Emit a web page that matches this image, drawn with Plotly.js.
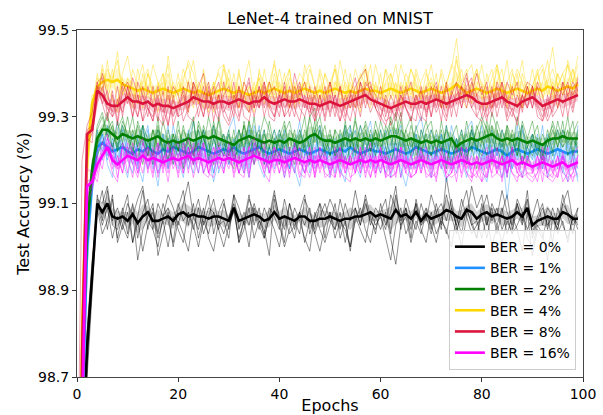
<!DOCTYPE html>
<html>
<head>
<meta charset="utf-8">
<script src="https://cdn.plot.ly/plotly-3.0.1.min.js"></script>
<style>
  html, body { margin: 0; padding: 0; background: #fff; }
  #chart { width: 603px; height: 415px; }
</style>
</head>
<body>
<div id="chart"></div>
<script>
// Test accuracy (%) of LeNet-4 on MNIST per epoch, for several bit error rates.
const epochs = Array.from({ length: 100 }, (_, i) => i);
const berLabels = ['BER = 0%', 'BER = 1%', 'BER = 2%', 'BER = 4%', 'BER = 8%', 'BER = 16%'];
const lineColors = ['#000000', '#1E90FF', '#008000', '#FFD700', '#DC143C', '#FF00FF'];

// ---- BER = 0% ----
const meanBer0 = [
  97.50, 98.50, 98.77, 98.94, 99.10, 99.08, 99.10, 99.07, 99.065, 99.07,
  99.06, 99.075, 99.055, 99.07, 99.08, 99.06, 99.06, 99.065, 99.07, 99.06,
  99.075, 99.08, 99.07, 99.075, 99.07, 99.07, 99.065, 99.07, 99.07, 99.065,
  99.06, 99.09, 99.06, 99.065, 99.07, 99.075, 99.07, 99.06, 99.065, 99.08,
  99.065, 99.07, 99.065, 99.06, 99.07, 99.07, 99.06, 99.06, 99.065, 99.065,
  99.07, 99.065, 99.06, 99.065, 99.065, 99.07, 99.07, 99.075, 99.08, 99.07,
  99.075, 99.07, 99.065, 99.085, 99.07, 99.075, 99.065, 99.08, 99.06, 99.075,
  99.065, 99.07, 99.075, 99.085, 99.08, 99.07, 99.065, 99.085, 99.08, 99.065,
  99.075, 99.08, 99.07, 99.075, 99.07, 99.065, 99.07, 99.08, 99.07, 99.09,
  99.05, 99.06, 99.065, 99.07, 99.065, 99.065, 99.08, 99.075, 99.065, 99.065
];
const runsBer0 = [
  [97.40, 98.42, 98.72, 98.92, 99.12, 99.06, 99.13, 99.05, 99.04, 99.09,
   99.03, 99.10, 99.02, 99.08, 99.11, 99.04, 99.00, 99.07, 99.09, 99.05,
   99.10, 99.06, 99.08, 99.04, 99.09, 99.03, 99.07, 99.11, 99.05, 99.06,
   99.02, 99.12, 99.04, 99.08, 99.05, 99.10, 99.06, 99.03, 99.09, 99.07,
   99.04, 99.11, 99.06, 99.02, 99.08, 99.05, 99.09, 99.03, 99.07, 99.10,
   99.06, 99.04, 99.08, 99.01, 99.07, 99.09, 99.05, 99.10, 99.06, 99.04,
   99.08, 99.11, 99.03, 99.12, 99.06, 99.09, 99.04, 99.10, 99.05, 99.07,
   99.03, 99.08, 99.10, 99.06, 99.11, 99.04, 99.07, 99.09, 99.05, 99.02,
   99.08, 99.12, 99.06, 99.09, 99.04, 99.07, 99.03, 99.10, 99.05, 99.13,
   99.02, 99.06, 99.09, 99.05, 99.07, 99.04, 99.10, 99.08, 99.05, 99.07],
  [97.55, 98.58, 98.81, 98.97, 99.08, 99.13, 99.04, 99.11, 99.02, 99.08,
   99.12, 99.01, 99.07, 99.13, 99.04, 99.09, 99.03, 99.10, 99.06, 99.01,
   99.09, 99.13, 99.05, 99.10, 99.02, 99.07, 99.12, 99.03, 99.08, 99.11,
   99.04, 99.09, 99.01, 99.06, 99.12, 99.05, 99.09, 99.02, 99.07, 99.13,
   99.06, 99.01, 99.10, 99.04, 99.08, 99.12, 99.03, 99.07, 99.10, 99.02,
   99.08, 99.04, 99.11, 99.06, 99.00, 99.09, 99.05, 99.12, 99.07, 99.03,
   99.10, 99.05, 99.08, 99.14, 99.04, 99.09, 99.02, 99.11, 99.06, 99.09,
   99.04, 99.10, 99.05, 99.12, 99.07, 99.03, 99.09, 99.13, 99.06, 99.02,
   99.10, 99.05, 99.09, 99.03, 99.08, 99.12, 99.04, 99.10, 99.06, 99.11,
   99.03, 99.07, 99.10, 99.04, 99.09, 99.05, 99.12, 99.07, 99.03, 99.09],
  [97.35, 98.45, 98.70, 98.90, 99.09, 99.03, 99.06, 99.12, 99.01, 99.05,
   99.02, 99.08, 98.97, 99.04, 99.07, 99.10, 98.98, 99.03, 99.08, 99.00,
   99.06, 99.03, 98.99, 99.07, 99.04, 99.09, 99.02, 98.99, 99.06, 99.03,
   99.07, 99.10, 99.01, 99.04, 99.09, 99.02, 99.06, 99.04, 98.98, 99.11,
   99.05, 99.00, 99.04, 99.09, 99.06, 99.02, 98.99, 99.08, 99.04, 99.01,
   99.05, 99.10, 99.02, 99.06, 98.99, 99.07, 99.04, 99.01, 99.08, 99.05,
   99.07, 99.02, 98.97, 99.05, 99.09, 99.03, 99.06, 99.10, 99.04, 99.01,
   99.08, 99.03, 99.06, 99.04, 99.00, 99.07, 99.03, 99.09, 99.05, 99.06,
   99.02, 99.07, 99.00, 99.05, 99.09, 99.03, 99.07, 99.04, 98.99, 99.08,
   98.98, 99.04, 99.02, 99.07, 99.01, 99.09, 99.05, 99.02, 99.07, 99.04],
  [97.60, 98.55, 98.80, 98.96, 99.11, 99.10, 99.14, 99.06, 99.09, 99.05,
   99.10, 99.07, 99.11, 99.14, 99.06, 99.04, 99.10, 99.07, 99.12, 99.09,
   99.05, 99.10, 99.15, 99.07, 99.11, 99.05, 99.09, 99.08, 99.04, 99.10,
   99.06, 99.12, 99.09, 99.05, 99.11, 99.08, 99.04, 99.09, 99.06, 99.12,
   99.07, 99.04, 99.10, 99.06, 99.03, 99.11, 99.08, 99.04, 99.10, 99.07,
   99.11, 99.08, 99.04, 99.10, 99.06, 99.13, 99.07, 99.11, 99.05, 99.09,
   99.07, 99.04, 99.12, 99.09, 99.05, 99.11, 99.07, 99.04, 99.10, 99.06,
   99.12, 99.08, 99.04, 99.16, 99.09, 99.05, 99.11, 99.07, 99.14, 99.09,
   99.12, 99.05, 99.10, 99.07, 99.13, 99.08, 99.05, 99.11, 99.08, 99.04,
   99.07, 99.11, 99.05, 99.09, 99.07, 99.04, 99.10, 99.13, 99.06, 99.09],
  [97.45, 98.50, 98.76, 98.94, 99.10, 99.05, 99.09, 99.02, 99.07, 99.04,
   99.08, 99.01, 99.06, 98.99, 99.05, 99.08, 99.02, 99.06, 99.00, 99.07,
   99.04, 99.01, 99.08, 99.05, 99.00, 99.06, 99.03, 99.08, 99.04, 99.00,
   99.05, 99.08, 99.02, 99.06, 99.00, 99.09, 99.05, 99.02, 99.07, 99.04,
   99.00, 99.07, 99.03, 99.05, 99.08, 99.01, 99.06, 99.03, 98.99, 99.05,
   99.08, 99.02, 99.06, 99.04, 99.00, 99.06, 99.09, 99.04, 99.01, 99.07,
   99.04, 99.08, 99.02, 98.96, 99.05, 99.07, 99.01, 99.06, 99.03, 99.08,
   99.05, 99.01, 99.07, 99.03, 99.09, 99.05, 99.00, 99.07, 99.03, 99.05,
   99.07, 99.02, 99.08, 99.05, 99.01, 99.06, 99.03, 99.05, 99.08, 99.02,
   99.00, 99.05, 99.03, 98.97, 99.07, 99.03, 99.06, 99.01, 99.07, 99.05]
];

// ---- BER = 1% ----
const meanBer1 = [
  97.60, 98.60, 99.00, 99.15, 99.23, 99.24, 99.23, 99.22, 99.225, 99.23,
  99.22, 99.215, 99.225, 99.22, 99.23, 99.22, 99.215, 99.225, 99.22, 99.23,
  99.225, 99.22, 99.215, 99.22, 99.23, 99.225, 99.22, 99.215, 99.22, 99.225,
  99.22, 99.23, 99.22, 99.215, 99.22, 99.225, 99.23, 99.22, 99.215, 99.22,
  99.225, 99.22, 99.215, 99.22, 99.225, 99.22, 99.215, 99.22, 99.225, 99.22,
  99.215, 99.22, 99.225, 99.22, 99.23, 99.22, 99.215, 99.22, 99.225, 99.22,
  99.22, 99.215, 99.22, 99.225, 99.22, 99.215, 99.22, 99.23, 99.225, 99.22,
  99.215, 99.22, 99.225, 99.22, 99.215, 99.22, 99.225, 99.22, 99.23, 99.225,
  99.22, 99.215, 99.22, 99.225, 99.22, 99.21, 99.22, 99.225, 99.22, 99.215,
  99.22, 99.225, 99.22, 99.215, 99.22, 99.225, 99.22, 99.215, 99.22, 99.22
];
const runsBer1 = [
  [97.50, 98.50, 98.95, 99.12, 99.21, 99.26, 99.20, 99.25, 99.19, 99.24,
   99.20, 99.17, 99.25, 99.21, 99.27, 99.19, 99.22, 99.26, 99.18, 99.24,
   99.21, 99.25, 99.18, 99.23, 99.27, 99.20, 99.24, 99.17, 99.22, 99.26,
   99.19, 99.25, 99.21, 99.17, 99.24, 99.22, 99.28, 99.19, 99.23, 99.20,
   99.26, 99.21, 99.18, 99.24, 99.20, 99.25, 99.17, 99.22, 99.27, 99.19,
   99.23, 99.20, 99.26, 99.22, 99.28, 99.18, 99.21, 99.25, 99.19, 99.24,
   99.21, 99.17, 99.24, 99.27, 99.20, 99.18, 99.23, 99.26, 99.21, 99.19,
   99.24, 99.20, 99.26, 99.18, 99.22, 99.25, 99.19, 99.23, 99.27, 99.21,
   99.18, 99.24, 99.20, 99.26, 99.22, 99.11, 99.21, 99.25, 99.19, 99.23,
   99.20, 99.26, 99.18, 99.22, 99.25, 99.21, 99.17, 99.24, 99.20, 99.16],
  [97.70, 98.70, 99.05, 99.18, 99.27, 99.20, 99.28, 99.23, 99.29, 99.19,
   99.26, 99.22, 99.18, 99.28, 99.21, 99.25, 99.17, 99.23, 99.28, 99.19,
   99.25, 99.18, 99.24, 99.29, 99.20, 99.27, 99.22, 99.17, 99.25, 99.21,
   99.27, 99.30, 99.21, 99.26, 99.18, 99.28, 99.23, 99.27, 99.19, 99.25,
   99.21, 99.27, 99.18, 99.23, 99.29, 99.21, 99.26, 99.19, 99.28, 99.23,
   99.18, 99.25, 99.21, 99.28, 99.24, 99.27, 99.19, 99.25, 99.29, 99.21,
   99.27, 99.20, 99.18, 99.25, 99.28, 99.19, 99.24, 99.27, 99.30, 99.23,
   99.19, 99.26, 99.22, 99.28, 99.18, 99.25, 99.21, 99.27, 99.29, 99.22,
   99.28, 99.19, 99.25, 99.21, 99.27, 99.23, 99.18, 99.25, 99.28, 99.20,
   99.26, 99.21, 99.28, 99.19, 99.24, 99.27, 99.21, 99.18, 99.25, 99.22],
  [97.55, 98.55, 98.98, 99.14, 99.20, 99.27, 99.19, 99.16, 99.24, 99.20,
   99.16, 99.23, 99.19, 99.15, 99.24, 99.20, 99.14, 99.23, 99.18, 99.25,
   99.20, 99.16, 99.23, 99.19, 99.25, 99.17, 99.21, 99.15, 99.20, 99.24,
   99.19, 99.23, 99.17, 99.21, 99.16, 99.24, 99.19, 99.16, 99.23, 99.18,
   99.22, 99.16, 99.23, 99.18, 99.14, 99.21, 99.25, 99.18, 99.20, 99.23,
   99.16, 99.22, 99.18, 99.15, 99.23, 99.19, 99.16, 99.22, 99.25, 99.18,
   99.20, 99.23, 99.16, 99.21, 99.18, 99.14, 99.20, 99.24, 99.18, 99.22,
   99.16, 99.22, 99.19, 99.15, 99.19, 99.24, 99.20, 99.16, 99.22, 99.25,
   99.18, 99.15, 99.22, 99.20, 99.16, 99.23, 99.18, 99.22, 99.16, 99.20,
   99.24, 99.18, 99.22, 99.16, 99.20, 99.23, 99.18, 99.15, 99.22, 99.18],
  [97.65, 98.62, 99.02, 99.16, 99.25, 99.22, 99.27, 99.19, 99.23, 99.28,
   99.23, 99.19, 99.25, 99.28, 99.18, 99.24, 99.27, 99.20, 99.25, 99.21,
   99.18, 99.25, 99.20, 99.17, 99.24, 99.27, 99.19, 99.25, 99.22, 99.18,
   99.24, 99.20, 99.27, 99.22, 99.28, 99.19, 99.25, 99.21, 99.17, 99.24,
   99.27, 99.22, 99.18, 99.25, 99.20, 99.17, 99.24, 99.27, 99.20, 99.25,
   99.22, 99.17, 99.25, 99.20, 99.27, 99.24, 99.18, 99.22, 99.26, 99.20,
   99.17, 99.24, 99.27, 99.20, 99.25, 99.22, 99.18, 99.26, 99.20, 99.24,
   99.27, 99.22, 99.18, 99.25, 99.20, 99.17, 99.24, 99.20, 99.27, 99.22,
   99.20, 99.26, 99.22, 99.18, 99.24, 99.16, 99.25, 99.20, 99.27, 99.22,
   99.18, 99.24, 99.20, 99.26, 99.22, 99.18, 99.27, 99.23, 99.18, 99.28],
  [97.58, 98.64, 99.00, 99.15, 99.23, 99.26, 99.21, 99.24, 99.19, 99.27,
   99.21, 99.26, 99.19, 99.24, 99.28, 99.18, 99.22, 99.26, 99.19, 99.28,
   99.23, 99.19, 99.27, 99.21, 99.17, 99.25, 99.20, 99.28, 99.17, 99.22,
   99.26, 99.19, 99.24, 99.18, 99.27, 99.21, 99.25, 99.19, 99.23, 99.27,
   99.19, 99.25, 99.21, 99.17, 99.27, 99.23, 99.19, 99.26, 99.21, 99.18,
   99.25, 99.21, 99.17, 99.27, 99.19, 99.23, 99.28, 99.21, 99.18, 99.25,
   99.21, 99.27, 99.19, 99.24, 99.16, 99.25, 99.21, 99.18, 99.27, 99.23,
   99.18, 99.22, 99.26, 99.19, 99.28, 99.23, 99.27, 99.21, 99.18, 99.25,
   99.23, 99.18, 99.27, 99.21, 99.25, 99.17, 99.22, 99.28, 99.19, 99.23,
   99.26, 99.21, 99.18, 99.25, 99.19, 99.23, 99.20, 99.25, 99.21, 99.15]
];

// ---- BER = 2% ----
const meanBer2 = [
  97.70, 98.70, 99.05, 99.18, 99.25, 99.27, 99.27, 99.26, 99.25, 99.26,
  99.255, 99.25, 99.255, 99.25, 99.245, 99.25, 99.255, 99.245, 99.24, 99.245,
  99.24, 99.245, 99.25, 99.245, 99.25, 99.255, 99.25, 99.255, 99.25, 99.245,
  99.24, 99.235, 99.245, 99.25, 99.255, 99.25, 99.245, 99.24, 99.245, 99.24,
  99.245, 99.24, 99.25, 99.245, 99.24, 99.245, 99.255, 99.26, 99.25, 99.245,
  99.245, 99.24, 99.245, 99.25, 99.245, 99.25, 99.245, 99.25, 99.245, 99.25,
  99.245, 99.25, 99.255, 99.255, 99.25, 99.245, 99.25, 99.245, 99.24, 99.245,
  99.24, 99.245, 99.24, 99.245, 99.25, 99.23, 99.24, 99.245, 99.25, 99.245,
  99.25, 99.255, 99.26, 99.25, 99.245, 99.25, 99.245, 99.25, 99.245, 99.24,
  99.245, 99.24, 99.235, 99.245, 99.25, 99.25, 99.255, 99.25, 99.25, 99.25
];
const runsBer2 = [
  [97.60, 98.60, 99.00, 99.15, 99.27, 99.30, 99.25, 99.28, 99.23, 99.29,
   99.26, 99.22, 99.28, 99.24, 99.21, 99.27, 99.23, 99.25, 99.20, 99.26,
   99.22, 99.27, 99.24, 99.21, 99.28, 99.25, 99.22, 99.29, 99.23, 99.26,
   99.21, 99.24, 99.27, 99.22, 99.29, 99.25, 99.21, 99.26, 99.23, 99.20,
   99.27, 99.23, 99.25, 99.21, 99.26, 99.22, 99.30, 99.24, 99.27, 99.22,
   99.25, 99.21, 99.27, 99.23, 99.26, 99.22, 99.28, 99.24, 99.21, 99.27,
   99.23, 99.26, 99.29, 99.24, 99.21, 99.27, 99.23, 99.25, 99.22, 99.26,
   99.21, 99.25, 99.22, 99.27, 99.24, 99.19, 99.23, 99.26, 99.22, 99.28,
   99.24, 99.29, 99.25, 99.22, 99.27, 99.23, 99.26, 99.21, 99.28, 99.23,
   99.26, 99.22, 99.20, 99.25, 99.28, 99.23, 99.27, 99.24, 99.26, 99.29],
  [97.75, 98.75, 99.08, 99.20, 99.23, 99.27, 99.31, 99.22, 99.29, 99.24,
   99.30, 99.23, 99.20, 99.28, 99.25, 99.21, 99.30, 99.19, 99.27, 99.22,
   99.29, 99.21, 99.26, 99.30, 99.20, 99.28, 99.24, 99.19, 99.30, 99.24,
   99.21, 99.27, 99.19, 99.29, 99.23, 99.30, 99.21, 99.27, 99.19, 99.25,
   99.21, 99.28, 99.22, 99.27, 99.19, 99.24, 99.30, 99.32, 99.24, 99.28,
   99.21, 99.27, 99.20, 99.29, 99.23, 99.30, 99.19, 99.27, 99.22, 99.29,
   99.24, 99.20, 99.30, 99.26, 99.31, 99.22, 99.28, 99.24, 99.20, 99.27,
   99.29, 99.22, 99.27, 99.19, 99.25, 99.28, 99.21, 99.19, 99.27, 99.22,
   99.29, 99.24, 99.31, 99.27, 99.21, 99.28, 99.22, 99.30, 99.24, 99.19,
   99.25, 99.28, 99.21, 99.27, 99.22, 99.29, 99.24, 99.30, 99.22, 99.27],
  [97.68, 98.66, 99.04, 99.17, 99.21, 99.24, 99.27, 99.29, 99.22, 99.24,
   99.21, 99.27, 99.23, 99.19, 99.25, 99.21, 99.28, 99.22, 99.25, 99.19,
   99.23, 99.18, 99.26, 99.21, 99.27, 99.23, 99.30, 99.25, 99.21, 99.23,
   99.27, 99.20, 99.23, 99.28, 99.21, 99.25, 99.27, 99.19, 99.23, 99.27,
   99.23, 99.19, 99.27, 99.25, 99.21, 99.27, 99.23, 99.29, 99.20, 99.23,
   99.27, 99.21, 99.23, 99.28, 99.19, 99.25, 99.21, 99.29, 99.25, 99.21,
   99.27, 99.23, 99.19, 99.25, 99.29, 99.21, 99.25, 99.19, 99.27, 99.23,
   99.21, 99.27, 99.23, 99.18, 99.25, 99.22, 99.27, 99.21, 99.23, 99.18,
   99.25, 99.21, 99.28, 99.23, 99.19, 99.27, 99.21, 99.25, 99.19, 99.23,
   99.21, 99.25, 99.19, 99.23, 99.27, 99.23, 99.29, 99.21, 99.25, 99.23],
  [97.72, 98.72, 99.06, 99.19, 99.28, 99.31, 99.26, 99.23, 99.27, 99.30,
   99.25, 99.30, 99.23, 99.28, 99.21, 99.27, 99.22, 99.29, 99.24, 99.20,
   99.27, 99.24, 99.20, 99.29, 99.22, 99.27, 99.20, 99.25, 99.29, 99.22,
   99.20, 99.18, 99.27, 99.23, 99.29, 99.21, 99.25, 99.30, 99.27, 99.21,
   99.25, 99.29, 99.22, 99.19, 99.25, 99.30, 99.21, 99.27, 99.30, 99.24,
   99.21, 99.27, 99.25, 99.19, 99.23, 99.29, 99.25, 99.21, 99.27, 99.23,
   99.29, 99.25, 99.21, 99.31, 99.23, 99.27, 99.30, 99.21, 99.25, 99.29,
   99.24, 99.21, 99.29, 99.23, 99.19, 99.25, 99.21, 99.29, 99.23, 99.27,
   99.30, 99.27, 99.23, 99.29, 99.25, 99.21, 99.27, 99.23, 99.19, 99.25,
   99.29, 99.23, 99.21, 99.25, 99.21, 99.27, 99.23, 99.25, 99.29, 99.21],
  [97.65, 98.68, 99.02, 99.18, 99.24, 99.27, 99.30, 99.27, 99.22, 99.28,
   99.25, 99.21, 99.29, 99.25, 99.23, 99.19, 99.27, 99.23, 99.20, 99.26,
   99.22, 99.28, 99.23, 99.19, 99.29, 99.25, 99.21, 99.28, 99.23, 99.21,
   99.26, 99.21, 99.22, 99.28, 99.24, 99.19, 99.26, 99.21, 99.29, 99.23,
   99.19, 99.26, 99.29, 99.23, 99.27, 99.23, 99.19, 99.26, 99.28, 99.21,
   99.26, 99.23, 99.19, 99.26, 99.28, 99.21, 99.26, 99.28, 99.22, 99.27,
   99.21, 99.28, 99.25, 99.19, 99.27, 99.25, 99.21, 99.28, 99.23, 99.19,
   99.27, 99.23, 99.21, 99.28, 99.23, 99.21, 99.26, 99.19, 99.28, 99.23,
   99.21, 99.28, 99.19, 99.27, 99.23, 99.28, 99.25, 99.21, 99.29, 99.25,
   99.23, 99.21, 99.26, 99.23, 99.29, 99.25, 99.23, 99.27, 99.21, 99.26]
];

// ---- BER = 4% ----
const meanBer4 = [
  97.70, 98.80, 99.20, 99.33, 99.37, 99.38, 99.385, 99.38, 99.385, 99.375,
  99.37, 99.365, 99.36, 99.365, 99.36, 99.355, 99.36, 99.365, 99.36, 99.355,
  99.36, 99.365, 99.36, 99.355, 99.36, 99.355, 99.35, 99.355, 99.36, 99.365,
  99.36, 99.355, 99.36, 99.355, 99.35, 99.355, 99.36, 99.355, 99.36, 99.365,
  99.36, 99.355, 99.36, 99.355, 99.36, 99.365, 99.36, 99.355, 99.36, 99.355,
  99.36, 99.365, 99.36, 99.355, 99.36, 99.355, 99.36, 99.365, 99.36, 99.36,
  99.355, 99.36, 99.365, 99.36, 99.355, 99.36, 99.365, 99.36, 99.355, 99.36,
  99.365, 99.36, 99.355, 99.36, 99.365, 99.375, 99.365, 99.355, 99.36, 99.365,
  99.36, 99.355, 99.36, 99.365, 99.36, 99.355, 99.36, 99.365, 99.36, 99.355,
  99.36, 99.365, 99.36, 99.37, 99.365, 99.36, 99.365, 99.37, 99.365, 99.375
];
const runsBer4 = [
  [97.60, 98.70, 99.15, 99.30, 99.39, 99.36, 99.41, 99.38, 99.45, 99.35,
   99.39, 99.36, 99.33, 99.38, 99.41, 99.35, 99.37, 99.40, 99.34, 99.38,
   99.35, 99.39, 99.42, 99.36, 99.33, 99.38, 99.35, 99.37, 99.40, 99.36,
   99.39, 99.34, 99.37, 99.35, 99.32, 99.36, 99.39, 99.35, 99.38, 99.42,
   99.37, 99.34, 99.39, 99.36, 99.40, 99.38, 99.35, 99.33, 99.37, 99.34,
   99.38, 99.41, 99.36, 99.34, 99.38, 99.35, 99.39, 99.42, 99.37, 99.35,
   99.34, 99.38, 99.40, 99.36, 99.33, 99.37, 99.41, 99.38, 99.34, 99.36,
   99.39, 99.35, 99.33, 99.38, 99.41, 99.48, 99.37, 99.34, 99.36, 99.40,
   99.38, 99.35, 99.39, 99.42, 99.36, 99.33, 99.37, 99.41, 99.38, 99.34,
   99.37, 99.40, 99.36, 99.39, 99.46, 99.37, 99.40, 99.42, 99.38, 99.42],
  [97.80, 98.90, 99.25, 99.35, 99.34, 99.42, 99.36, 99.41, 99.33, 99.39,
   99.34, 99.41, 99.37, 99.32, 99.40, 99.35, 99.31, 99.38, 99.42, 99.34,
   99.40, 99.33, 99.38, 99.43, 99.35, 99.40, 99.33, 99.36, 99.41, 99.42,
   99.34, 99.40, 99.32, 99.38, 99.43, 99.34, 99.39, 99.33, 99.38, 99.35,
   99.41, 99.35, 99.32, 99.38, 99.33, 99.42, 99.37, 99.34, 99.40, 99.33,
   99.38, 99.35, 99.43, 99.37, 99.32, 99.35, 99.40, 99.37, 99.42, 99.34,
   99.40, 99.32, 99.37, 99.42, 99.35, 99.40, 99.37, 99.33, 99.38, 99.41,
   99.34, 99.40, 99.32, 99.37, 99.35, 99.43, 99.38, 99.41, 99.33, 99.37,
   99.42, 99.35, 99.32, 99.38, 99.41, 99.34, 99.37, 99.32, 99.40, 99.35,
   99.41, 99.35, 99.38, 99.43, 99.35, 99.40, 99.37, 99.42, 99.34, 99.40],
  [97.65, 98.75, 99.18, 99.32, 99.40, 99.35, 99.43, 99.34, 99.33, 99.40,
   99.44, 99.37, 99.33, 99.40, 99.35, 99.42, 99.38, 99.33, 99.44, 99.37,
   99.33, 99.38, 99.43, 99.40, 99.35, 99.32, 99.38, 99.31, 99.35, 99.42,
   99.38, 99.33, 99.40, 99.35, 99.31, 99.38, 99.33, 99.41, 99.35, 99.43,
   99.35, 99.40, 99.32, 99.37, 99.34, 99.40, 99.42, 99.37, 99.33, 99.40,
   99.35, 99.42, 99.37, 99.32, 99.40, 99.35, 99.31, 99.41, 99.35, 99.42,
   99.37, 99.33, 99.40, 99.35, 99.42, 99.38, 99.32, 99.40, 99.35, 99.37,
   99.42, 99.35, 99.40, 99.32, 99.37, 99.44, 99.35, 99.40, 99.42, 99.35,
   99.32, 99.40, 99.35, 99.42, 99.37, 99.43, 99.34, 99.40, 99.32, 99.37,
   99.35, 99.40, 99.42, 99.37, 99.33, 99.40, 99.35, 99.43, 99.38, 99.44],
  [97.72, 98.82, 99.22, 99.34, 99.35, 99.41, 99.34, 99.39, 99.43, 99.35,
   99.38, 99.33, 99.41, 99.35, 99.40, 99.37, 99.34, 99.40, 99.32, 99.37,
   99.35, 99.41, 99.37, 99.32, 99.38, 99.35, 99.31, 99.38, 99.34, 99.41,
   99.37, 99.34, 99.41, 99.33, 99.37, 99.35, 99.40, 99.38, 99.32, 99.40,
   99.35, 99.38, 99.41, 99.33, 99.38, 99.35, 99.41, 99.37, 99.34, 99.40,
   99.37, 99.41, 99.33, 99.38, 99.35, 99.41, 99.37, 99.34, 99.32, 99.38,
   99.34, 99.41, 99.38, 99.32, 99.38, 99.35, 99.41, 99.37, 99.34, 99.40,
   99.37, 99.34, 99.41, 99.37, 99.42, 99.40, 99.34, 99.32, 99.37, 99.41,
   99.34, 99.38, 99.41, 99.34, 99.37, 99.32, 99.40, 99.37, 99.43, 99.35,
   99.37, 99.41, 99.34, 99.38, 99.41, 99.37, 99.40, 99.34, 99.41, 99.37],
  [97.68, 98.85, 99.20, 99.33, 99.35, 99.40, 99.37, 99.34, 99.31, 99.38,
   99.35, 99.32, 99.38, 99.42, 99.35, 99.33, 99.38, 99.35, 99.40, 99.33,
   99.38, 99.35, 99.31, 99.38, 99.33, 99.41, 99.35, 99.38, 99.33, 99.35,
   99.41, 99.35, 99.32, 99.38, 99.35, 99.31, 99.41, 99.35, 99.38, 99.33,
   99.38, 99.35, 99.41, 99.32, 99.35, 99.38, 99.33, 99.35, 99.41, 99.37,
   99.33, 99.38, 99.35, 99.41, 99.35, 99.32, 99.38, 99.41, 99.35, 99.37,
   99.35, 99.41, 99.34, 99.38, 99.32, 99.38, 99.35, 99.41, 99.37, 99.33,
   99.38, 99.35, 99.32, 99.38, 99.35, 99.38, 99.41, 99.35, 99.38, 99.41,
   99.37, 99.32, 99.35, 99.41, 99.35, 99.38, 99.41, 99.35, 99.32, 99.38,
   99.35, 99.38, 99.41, 99.35, 99.38, 99.32, 99.35, 99.38, 99.41, 99.35]
];

// ---- BER = 8% ----
const meanBer8 = [
  97.50, 98.75, 99.26, 99.27, 99.36, 99.35, 99.33, 99.325, 99.325, 99.335,
  99.345, 99.335, 99.335, 99.33, 99.335, 99.325, 99.33, 99.325, 99.325, 99.32,
  99.325, 99.33, 99.335, 99.345, 99.34, 99.335, 99.335, 99.33, 99.335, 99.335,
  99.33, 99.335, 99.34, 99.335, 99.33, 99.335, 99.335, 99.345, 99.335, 99.33,
  99.335, 99.34, 99.335, 99.335, 99.34, 99.335, 99.33, 99.33, 99.325, 99.33,
  99.335, 99.33, 99.325, 99.33, 99.335, 99.34, 99.345, 99.35, 99.34, 99.335,
  99.33, 99.325, 99.32, 99.325, 99.33, 99.335, 99.33, 99.33, 99.335, 99.33,
  99.335, 99.34, 99.335, 99.33, 99.335, 99.34, 99.345, 99.35, 99.345, 99.335,
  99.33, 99.33, 99.335, 99.34, 99.345, 99.335, 99.33, 99.325, 99.335, 99.34,
  99.345, 99.335, 99.325, 99.33, 99.335, 99.34, 99.335, 99.34, 99.345, 99.35
];
const runsBer8 = [
  [98.30, 99.20, 99.28, 99.31, 99.38, 99.33, 99.36, 99.30, 99.34, 99.31,
   99.37, 99.33, 99.30, 99.35, 99.32, 99.29, 99.34, 99.31, 99.35, 99.30,
   99.33, 99.36, 99.31, 99.38, 99.34, 99.30, 99.36, 99.32, 99.35, 99.31,
   99.34, 99.30, 99.37, 99.33, 99.31, 99.36, 99.32, 99.38, 99.33, 99.30,
   99.36, 99.32, 99.34, 99.30, 99.37, 99.33, 99.31, 99.35, 99.30, 99.34,
   99.31, 99.35, 99.29, 99.33, 99.36, 99.32, 99.38, 99.35, 99.31, 99.34,
   99.30, 99.34, 99.28, 99.31, 99.35, 99.32, 99.29, 99.34, 99.36, 99.31,
   99.35, 99.31, 99.34, 99.30, 99.36, 99.33, 99.37, 99.35, 99.32, 99.30,
   99.33, 99.29, 99.36, 99.32, 99.38, 99.34, 99.31, 99.29, 99.35, 99.32,
   99.37, 99.33, 99.30, 99.34, 99.31, 99.36, 99.33, 99.35, 99.38, 99.36],
  [97.20, 98.50, 99.25, 99.24, 99.38, 99.39, 99.30, 99.36, 99.29, 99.37,
   99.33, 99.39, 99.35, 99.29, 99.37, 99.33, 99.29, 99.36, 99.28, 99.34,
   99.30, 99.31, 99.38, 99.33, 99.37, 99.40, 99.32, 99.37, 99.30, 99.38,
   99.32, 99.38, 99.30, 99.35, 99.39, 99.32, 99.37, 99.32, 99.38, 99.34,
   99.30, 99.38, 99.32, 99.40, 99.35, 99.38, 99.32, 99.29, 99.35, 99.30,
   99.38, 99.32, 99.37, 99.30, 99.35, 99.39, 99.32, 99.38, 99.36, 99.32,
   99.37, 99.30, 99.35, 99.32, 99.29, 99.35, 99.38, 99.32, 99.29, 99.35,
   99.30, 99.37, 99.32, 99.38, 99.30, 99.37, 99.32, 99.39, 99.35, 99.40,
   99.35, 99.38, 99.30, 99.37, 99.32, 99.38, 99.35, 99.38, 99.31, 99.37,
   99.32, 99.38, 99.35, 99.30, 99.37, 99.32, 99.38, 99.35, 99.31, 99.37],
  [97.40, 98.70, 99.27, 99.28, 99.34, 99.40, 99.35, 99.31, 99.37, 99.30,
   99.37, 99.30, 99.38, 99.35, 99.30, 99.37, 99.30, 99.28, 99.32, 99.37,
   99.35, 99.29, 99.32, 99.37, 99.30, 99.35, 99.38, 99.32, 99.29, 99.35,
   99.37, 99.32, 99.29, 99.35, 99.38, 99.32, 99.37, 99.30, 99.35, 99.37,
   99.32, 99.37, 99.30, 99.35, 99.38, 99.32, 99.37, 99.30, 99.35, 99.29,
   99.35, 99.30, 99.37, 99.32, 99.29, 99.35, 99.30, 99.37, 99.38, 99.32,
   99.29, 99.35, 99.32, 99.30, 99.37, 99.32, 99.29, 99.35, 99.32, 99.37,
   99.30, 99.35, 99.29, 99.37, 99.32, 99.35, 99.37, 99.32, 99.38, 99.35,
   99.30, 99.37, 99.32, 99.35, 99.38, 99.30, 99.37, 99.32, 99.35, 99.38,
   99.37, 99.30, 99.29, 99.32, 99.37, 99.35, 99.30, 99.37, 99.35, 99.38],
  [97.60, 98.80, 99.26, 99.27, 99.37, 99.33, 99.29, 99.35, 99.28, 99.36,
   99.38, 99.35, 99.30, 99.37, 99.32, 99.29, 99.37, 99.32, 99.28, 99.35,
   99.30, 99.37, 99.32, 99.38, 99.35, 99.30, 99.37, 99.29, 99.35, 99.30,
   99.28, 99.32, 99.37, 99.30, 99.29, 99.35, 99.32, 99.37, 99.30, 99.29,
   99.35, 99.30, 99.37, 99.32, 99.29, 99.35, 99.30, 99.37, 99.32, 99.35,
   99.38, 99.32, 99.29, 99.35, 99.32, 99.37, 99.39, 99.41, 99.35, 99.32,
   99.30, 99.28, 99.32, 99.29, 99.35, 99.32, 99.30, 99.29, 99.37, 99.30,
   99.35, 99.38, 99.32, 99.29, 99.35, 99.38, 99.32, 99.37, 99.39, 99.30,
   99.29, 99.32, 99.37, 99.30, 99.35, 99.29, 99.32, 99.28, 99.35, 99.32,
   99.37, 99.32, 99.29, 99.35, 99.30, 99.32, 99.38, 99.30, 99.37, 99.38],
  [97.30, 98.60, 99.24, 99.26, 99.33, 99.37, 99.32, 99.30, 99.32, 99.38,
   99.35, 99.30, 99.35, 99.29, 99.32, 99.30, 99.35, 99.29, 99.37, 99.28,
   99.32, 99.35, 99.30, 99.29, 99.32, 99.37, 99.30, 99.35, 99.38, 99.32,
   99.29, 99.35, 99.32, 99.38, 99.35, 99.30, 99.35, 99.38, 99.32, 99.30,
   99.35, 99.30, 99.32, 99.37, 99.32, 99.30, 99.35, 99.29, 99.32, 99.37,
   99.30, 99.35, 99.32, 99.29, 99.35, 99.30, 99.38, 99.32, 99.37, 99.35,
   99.32, 99.29, 99.30, 99.35, 99.30, 99.37, 99.32, 99.35, 99.30, 99.29,
   99.37, 99.32, 99.37, 99.32, 99.35, 99.30, 99.37, 99.40, 99.32, 99.35,
   99.37, 99.30, 99.32, 99.38, 99.35, 99.32, 99.30, 99.35, 99.32, 99.37,
   99.32, 99.37, 99.32, 99.29, 99.32, 99.37, 99.35, 99.38, 99.32, 99.39]
];

// ---- BER = 16% ----
const meanBer16 = [
  97.60, 98.60, 99.14, 99.15, 99.19, 99.21, 99.23, 99.20, 99.19, 99.20,
  99.21, 99.205, 99.20, 99.21, 99.20, 99.205, 99.20, 99.195, 99.20, 99.205,
  99.20, 99.205, 99.21, 99.20, 99.205, 99.20, 99.195, 99.20, 99.205, 99.20,
  99.205, 99.20, 99.195, 99.20, 99.205, 99.21, 99.205, 99.20, 99.195, 99.20,
  99.20, 99.195, 99.20, 99.205, 99.20, 99.195, 99.20, 99.195, 99.20, 99.195,
  99.19, 99.195, 99.20, 99.195, 99.19, 99.195, 99.20, 99.195, 99.20, 99.195,
  99.20, 99.195, 99.19, 99.195, 99.20, 99.195, 99.19, 99.195, 99.20, 99.195,
  99.19, 99.195, 99.20, 99.195, 99.19, 99.195, 99.20, 99.195, 99.19, 99.195,
  99.19, 99.195, 99.20, 99.195, 99.19, 99.195, 99.20, 99.19, 99.195, 99.19,
  99.185, 99.19, 99.195, 99.19, 99.185, 99.19, 99.195, 99.185, 99.19, 99.195
];
const runsBer16 = [
  [97.50, 98.50, 99.10, 99.13, 99.22, 99.24, 99.26, 99.18, 99.21, 99.17,
   99.23, 99.19, 99.16, 99.22, 99.18, 99.21, 99.17, 99.20, 99.23, 99.18,
   99.21, 99.17, 99.23, 99.19, 99.22, 99.17, 99.20, 99.23, 99.18, 99.21,
   99.18, 99.22, 99.17, 99.20, 99.23, 99.19, 99.22, 99.18, 99.21, 99.17,
   99.22, 99.18, 99.21, 99.17, 99.23, 99.19, 99.16, 99.21, 99.18, 99.22,
   99.17, 99.20, 99.23, 99.18, 99.21, 99.17, 99.22, 99.19, 99.16, 99.21,
   99.18, 99.22, 99.17, 99.20, 99.23, 99.18, 99.21, 99.17, 99.22, 99.19,
   99.16, 99.21, 99.18, 99.22, 99.17, 99.20, 99.23, 99.18, 99.21, 99.17,
   99.20, 99.16, 99.22, 99.18, 99.21, 99.17, 99.23, 99.19, 99.16, 99.21,
   99.18, 99.15, 99.21, 99.17, 99.20, 99.16, 99.22, 99.18, 99.15, 99.20],
  [97.70, 98.70, 99.18, 99.17, 99.15, 99.22, 99.25, 99.23, 99.16, 99.23,
   99.17, 99.24, 99.21, 99.17, 99.23, 99.17, 99.24, 99.18, 99.23, 99.21,
   99.17, 99.24, 99.20, 99.23, 99.17, 99.24, 99.17, 99.23, 99.20, 99.17,
   99.24, 99.21, 99.17, 99.23, 99.16, 99.24, 99.21, 99.23, 99.17, 99.21,
   99.17, 99.23, 99.16, 99.24, 99.20, 99.17, 99.23, 99.16, 99.23, 99.20,
   99.21, 99.16, 99.23, 99.17, 99.21, 99.23, 99.17, 99.21, 99.24, 99.17,
   99.23, 99.16, 99.21, 99.16, 99.23, 99.17, 99.21, 99.23, 99.17, 99.21,
   99.21, 99.15, 99.23, 99.17, 99.21, 99.15, 99.23, 99.17, 99.15, 99.21,
   99.15, 99.21, 99.17, 99.23, 99.15, 99.21, 99.17, 99.15, 99.21, 99.17,
   99.17, 99.21, 99.15, 99.23, 99.17, 99.21, 99.15, 99.17, 99.21, 99.23],
  [97.55, 98.55, 99.12, 99.14, 99.17, 99.24, 99.22, 99.17, 99.15, 99.24,
   99.21, 99.16, 99.23, 99.25, 99.17, 99.23, 99.16, 99.21, 99.15, 99.23,
   99.24, 99.17, 99.23, 99.16, 99.21, 99.24, 99.17, 99.16, 99.23, 99.17,
   99.23, 99.16, 99.21, 99.17, 99.23, 99.25, 99.21, 99.17, 99.15, 99.23,
   99.21, 99.16, 99.21, 99.23, 99.17, 99.16, 99.21, 99.17, 99.23, 99.16,
   99.17, 99.23, 99.16, 99.21, 99.16, 99.17, 99.23, 99.16, 99.21, 99.16,
   99.23, 99.16, 99.17, 99.23, 99.16, 99.21, 99.16, 99.17, 99.23, 99.16,
   99.17, 99.23, 99.21, 99.16, 99.17, 99.23, 99.16, 99.21, 99.17, 99.16,
   99.21, 99.23, 99.16, 99.17, 99.21, 99.16, 99.23, 99.17, 99.21, 99.16,
   99.15, 99.17, 99.23, 99.16, 99.15, 99.17, 99.21, 99.15, 99.17, 99.21],
  [97.65, 98.65, 99.15, 99.16, 99.21, 99.18, 99.25, 99.22, 99.21, 99.17,
   99.24, 99.22, 99.17, 99.24, 99.21, 99.16, 99.23, 99.17, 99.24, 99.22,
   99.16, 99.22, 99.25, 99.21, 99.24, 99.17, 99.16, 99.21, 99.24, 99.21,
   99.21, 99.23, 99.17, 99.16, 99.23, 99.21, 99.23, 99.24, 99.17, 99.23,
   99.21, 99.17, 99.23, 99.21, 99.16, 99.21, 99.23, 99.16, 99.21, 99.17,
   99.16, 99.21, 99.17, 99.16, 99.15, 99.21, 99.17, 99.23, 99.16, 99.21,
   99.17, 99.21, 99.16, 99.17, 99.23, 99.21, 99.16, 99.17, 99.21, 99.17,
   99.16, 99.17, 99.21, 99.16, 99.17, 99.21, 99.17, 99.23, 99.16, 99.17,
   99.15, 99.17, 99.23, 99.17, 99.16, 99.21, 99.17, 99.16, 99.17, 99.21,
   99.17, 99.21, 99.17, 99.16, 99.17, 99.16, 99.21, 99.17, 99.16, 99.17],
  [97.60, 98.60, 99.14, 99.15, 99.19, 99.21, 99.24, 99.21, 99.18, 99.23,
   99.23, 99.22, 99.17, 99.21, 99.23, 99.21, 99.24, 99.21, 99.17, 99.23,
   99.21, 99.23, 99.17, 99.24, 99.21, 99.23, 99.17, 99.21, 99.23, 99.21,
   99.23, 99.17, 99.21, 99.23, 99.17, 99.23, 99.21, 99.17, 99.21, 99.23,
   99.17, 99.21, 99.17, 99.23, 99.21, 99.17, 99.21, 99.23, 99.17, 99.21,
   99.17, 99.16, 99.21, 99.17, 99.21, 99.17, 99.23, 99.17, 99.21, 99.17,
   99.21, 99.17, 99.16, 99.17, 99.21, 99.17, 99.16, 99.21, 99.17, 99.23,
   99.17, 99.16, 99.21, 99.17, 99.16, 99.17, 99.21, 99.17, 99.16, 99.21,
   99.17, 99.16, 99.21, 99.17, 99.21, 99.17, 99.21, 99.17, 99.16, 99.17,
   99.16, 99.17, 99.21, 99.17, 99.16, 99.21, 99.17, 99.16, 99.17, 99.21]
];

const seriesMeans = [meanBer0, meanBer1, meanBer2, meanBer4, meanBer8, meanBer16];
const seriesRuns = [runsBer0, runsBer1, runsBer2, runsBer4, runsBer8, runsBer16];

function rgba(hex, a) {
  const n = parseInt(hex.slice(1), 16);
  return `rgba(${(n >> 16) & 255},${(n >> 8) & 255},${n & 255},${a})`;
}

const traces = [];
seriesMeans.forEach((mean, s) => {
  const color = lineColors[s];
  const runs = seriesRuns[s];
  const thinAlpha = s === 0 ? 0.55 : 0.5;

  // individual training runs
  runs.forEach(run => {
    traces.push({
      x: epochs, y: run, type: 'scatter', mode: 'lines',
      line: { color: rgba(color, thinAlpha), width: 0.8 },
      showlegend: false, hoverinfo: 'skip'
    });
  });

  // shaded band: half a standard deviation of the runs around the mean
  const spread = epochs.map(i => {
    const m = mean[i];
    const v = runs.reduce((acc, r) => acc + (r[i] - m) * (r[i] - m), 0) / runs.length;
    return 0.5 * Math.sqrt(v);
  });
  const upper = epochs.map(i => mean[i] + spread[i]);
  const lower = epochs.map(i => mean[i] - spread[i]);
  traces.push({
    x: epochs.concat(epochs.slice().reverse()),
    y: upper.concat(lower.slice().reverse()),
    type: 'scatter', mode: 'lines', fill: 'toself',
    fillcolor: s === 0 ? 'rgba(0,0,0,0.18)' : rgba(color, 0.2),
    line: { width: 0 }, showlegend: false, hoverinfo: 'skip'
  });

  // mean curve
  traces.push({
    x: epochs, y: mean, type: 'scatter', mode: 'lines',
    name: berLabels[s],
    line: { color: color, width: 2.6 },
    showlegend: true
  });
});

const font = 'DejaVu Sans, sans-serif';
const layout = {
  width: 603, height: 415,
  margin: { l: 77, r: 20, t: 30, b: 38 },
  paper_bgcolor: '#fff', plot_bgcolor: '#fff',
  font: { family: font, size: 14, color: '#000' },
  title: {
    text: 'LeNet-4 trained on MNIST',
    font: { family: font, size: 16, color: '#000' },
    x: 0.5, xref: 'paper', y: 0.955, yref: 'container', yanchor: 'middle'
  },
  xaxis: {
    range: [0, 100], tickvals: [0, 20, 40, 60, 80, 100],
    ticks: 'outside', ticklen: 4, tickwidth: 1, tickcolor: '#333',
    showgrid: false, zeroline: false,
    showline: true, mirror: true, linecolor: '#444', linewidth: 1,
    tickfont: { family: font, size: 14, color: '#000' },
    title: { text: 'Epochs', font: { family: font, size: 16, color: '#000' }, standoff: 4 }
  },
  yaxis: {
    range: [98.7, 99.5], tickvals: [98.7, 98.9, 99.1, 99.3, 99.5], tickformat: '.1f',
    ticks: 'outside', ticklen: 4, tickwidth: 1, tickcolor: '#333',
    showgrid: false, zeroline: false,
    showline: true, mirror: true, linecolor: '#444', linewidth: 1,
    tickfont: { family: font, size: 14, color: '#000' },
    title: { text: 'Test Accuracy (%)', font: { family: font, size: 16, color: '#000' }, standoff: 4 }
  },
  legend: {
    x: 0.986, xanchor: 'right', y: 0.02, yanchor: 'bottom',
    bgcolor: 'rgba(255,255,255,0.8)', bordercolor: '#cccccc', borderwidth: 1,
    font: { family: font, size: 14, color: '#000' },
    itemwidth: 30, tracegroupgap: 0
  },
  showlegend: true
};

Plotly.newPlot('chart', traces, layout, { staticPlot: true, displayModeBar: false });
</script>
</body>
</html>
